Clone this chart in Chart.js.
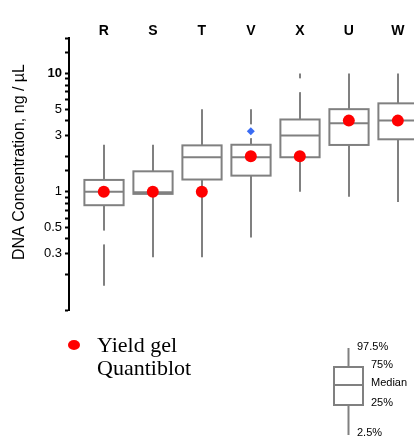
<!DOCTYPE html>
<html>
<head>
<meta charset="utf-8">
<script src="https://cdn.jsdelivr.net/npm/chart.js@4.4.1/dist/chart.umd.min.js"></script>
<style>
  html, body { margin: 0; padding: 0; background: #fff; }
  canvas { display: block; }
</style>
</head>
<body>
<canvas id="dnaChart" width="414" height="440"></canvas>
<script>
// kits along the top
const categories = ["R", "S", "T", "V", "X", "U", "W"];

// box plot quantiles, ng/uL
const whiskerLow = [0.16, 0.28, 0.28, 0.41, 1.0, 0.91, 0.82];   // 2.5%
const quart1 = [0.77, 0.96, 1.27, 1.37, 1.96, 2.49, 2.78];      // 25%
const medians = [1.0, 0.99, 1.96, 1.96, 2.99, 3.8, 4.0];
const quart3 = [1.26, 1.49, 2.47, 2.5, 4.09, 5.0, 5.6];         // 75%
const whiskerHigh = [2.5, 2.5, 5.0, 5.0, 10.0, 10.0, 10.0];     // 97.5%

// yield gel quantiblot values (red dots)
const yieldGel = [1.0, 1.0, 1.0, 2.0, 2.0, 4.0, 4.0];
// single outlier (blue diamond)
const outliers = [null, null, null, 3.25, null, null, null];
// white breaks seen in some whiskers
const whiskerBreaks = [0.41, null, null, 3.25, 7.95, null, null];

const yLabelled = [0.3, 0.5, 1, 3, 5, 10];

const GREY = "#808080";
const SANS = "'Liberation Sans', Arial, sans-serif";
const SERIF = "'Liberation Serif', 'Times New Roman', serif";

Chart.defaults.font.family = SANS;
Chart.defaults.color = "#000";

const toPoints = (arr) => categories
  .map((c, i) => ({ x: i, y: arr[i] }))
  .filter((p) => p.y !== null);

// draws the boxes and whiskers through the chart scales
const boxPlotPlugin = {
  id: "boxPlots",
  beforeDatasetsDraw(chart) {
    const { ctx, scales: { x, y } } = chart;
    const half = (x.getPixelForValue(1) - x.getPixelForValue(0)) * 0.4;
    ctx.save();
    ctx.strokeStyle = GREY;
    ctx.lineWidth = 2;
    categories.forEach((c, i) => {
      const cx = Math.round(x.getPixelForValue(i));
      const lo = y.getPixelForValue(whiskerLow[i]);
      const hi = y.getPixelForValue(whiskerHigh[i]);
      const top = y.getPixelForValue(quart3[i]);
      const bot = y.getPixelForValue(quart1[i]);
      const med = y.getPixelForValue(medians[i]);

      ctx.beginPath();
      ctx.moveTo(cx, hi);
      ctx.lineTo(cx, lo);
      ctx.stroke();

      ctx.fillStyle = "#fff";
      ctx.fillRect(cx - half, top, half * 2, bot - top);
      ctx.strokeRect(cx - half, top, half * 2, bot - top);

      ctx.beginPath();
      ctx.moveTo(cx - half, med);
      ctx.lineTo(cx + half, med);
      ctx.stroke();
    });
    ctx.restore();
  },
};

// y title, dot legend and the box key under the plot
const extrasPlugin = {
  id: "extras",
  afterDraw(chart) {
    const { ctx } = chart;
    ctx.save();

    // y axis title
    ctx.save();
    ctx.translate(24, 162);
    ctx.rotate(-Math.PI / 2);
    ctx.font = "16px " + SANS;
    ctx.fillStyle = "#000";
    ctx.textAlign = "center";
    ctx.textBaseline = "alphabetic";
    ctx.fillText("DNA Concentration, ng / \u00b5L", 0, 0);
    ctx.restore();

    // red dot legend
    ctx.fillStyle = "#ff0000";
    ctx.beginPath();
    ctx.ellipse(74, 345, 6, 5, 0, 0, Math.PI * 2);
    ctx.fill();
    ctx.fillStyle = "#000";
    ctx.font = "22px " + SERIF;
    ctx.textAlign = "left";
    ctx.textBaseline = "alphabetic";
    ctx.fillText("Yield gel", 97, 352);
    ctx.fillText("Quantiblot", 97, 375);

    // box key
    const kx = 348.5;
    ctx.strokeStyle = GREY;
    ctx.lineWidth = 2;
    ctx.beginPath();
    ctx.moveTo(kx, 348);
    ctx.lineTo(kx, 435);
    ctx.stroke();
    ctx.fillStyle = "#fff";
    ctx.fillRect(334, 367, 29, 38);
    ctx.strokeRect(334, 367, 29, 38);
    ctx.beginPath();
    ctx.moveTo(334, 385);
    ctx.lineTo(363, 385);
    ctx.stroke();

    ctx.fillStyle = "#000";
    ctx.font = "11px " + SANS;
    ctx.textBaseline = "middle";
    ctx.fillText("97.5%", 357, 347);
    ctx.fillText("75%", 371, 365);
    ctx.fillText("Median", 371, 383);
    ctx.fillText("25%", 371, 403);
    ctx.fillText("2.5%", 357, 433);

    ctx.restore();
  },
};

const ctx = document.getElementById("dnaChart");

new Chart(ctx, {
  type: "scatter",
  data: {
    datasets: [
      {
        label: "Yield gel Quantiblot",
        data: toPoints(yieldGel),
        pointRadius: 6,
        pointBackgroundColor: "#ff0000",
        pointBorderWidth: 0,
        order: 0,
      },
      {
        label: "Outlier",
        data: toPoints(outliers),
        pointStyle: "rectRot",
        pointRadius: 4,
        pointBackgroundColor: "#3a6cf4",
        pointBorderWidth: 0,
        order: 1,
      },
      {
        label: "breaks",
        data: toPoints(whiskerBreaks),
        pointRadius: 7,
        pointBackgroundColor: "#ffffff",
        pointBorderWidth: 0,
        order: 2,
      },
    ],
  },
  options: {
    responsive: false,
    animation: false,
    layout: {
      autoPadding: false,
      padding: { top: 0, left: 0, right: 0, bottom: 130 },
    },
    plugins: {
      legend: { display: false },
      tooltip: { enabled: false },
    },
    scales: {
      x: {
        type: "linear",
        position: "top",
        min: -0.71,
        max: 6.33,
        grid: { display: false, drawTicks: false },
        border: { display: false },
        afterBuildTicks: (s) => {
          s.ticks = categories.map((c, i) => ({ value: i }));
        },
        ticks: {
          autoSkip: false,
          maxRotation: 0,
          padding: -2,
          color: "#000",
          font: { size: 14, weight: "bold" },
          callback: (v) => categories[v],
        },
        afterFit: (s) => {
          s.height = 38;
          s.paddingLeft = 0;
          s.paddingRight = 0;
        },
      },
      y: {
        type: "logarithmic",
        min: 0.1,
        max: 20,
        grid: {
          drawOnChartArea: false,
          tickLength: 4,
          tickWidth: 2,
          tickColor: "#000",
        },
        border: { display: true, color: "#000", width: 2 },
        ticks: {
          autoSkip: false,
          padding: 3,
          color: "#000",
          font: (c) => ({
            size: 13,
            weight: c.tick && c.tick.value === 10 ? "bold" : "normal",
          }),
          callback: (v) => (yLabelled.some((t) => Math.abs(t - v) < 1e-9) ? String(v) : ""),
        },
        afterFit: (s) => { s.width = 69; },
      },
    },
  },
  plugins: [boxPlotPlugin, extrasPlugin],
});
</script>
</body>
</html>
